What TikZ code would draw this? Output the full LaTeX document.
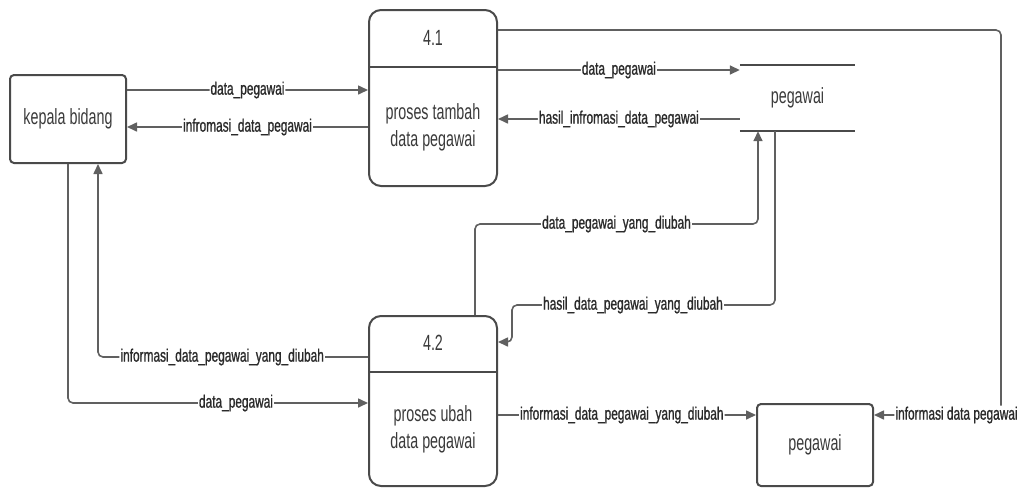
\documentclass[tikz,border=0pt]{standalone}
\usepackage{fontspec}
\setmainfont{Liberation Sans}[FakeStretch=0.65]
\newfontfamily\flowfont{Liberation Sans}[FakeStretch=0.66, FakeBold=0.9]
\usetikzlibrary{arrows.meta}
\definecolor{boxgray}{HTML}{4A4A4A}
\definecolor{linegray}{HTML}{606060}
\definecolor{textgray}{HTML}{3A3A3A}
\definecolor{labelgray}{HTML}{2A2A2A}
\begin{document}
\begin{tikzpicture}[x=1pt,y=-1pt,
  entity/.style={draw=boxgray, line width=2pt, rounded corners=4pt, fill=white,
    font=\fontsize{22}{26}\selectfont, text=textgray},
  proc/.style={draw=boxgray, line width=2pt, rounded corners=12pt, fill=white},
  ptext/.style={font=\fontsize{22}{27}\selectfont, text=textgray, align=center},
  flow/.style={draw=linegray, line width=1.6pt, rounded corners=5pt,
    -{Triangle[length=10pt,width=9pt]}},
  lbl/.style={fill=white, inner sep=1pt, text=labelgray,
    font=\flowfont\fontsize{18}{20}\selectfont}]

\useasboundingbox (0,0) rectangle (1020,488);

% external entity and processes
\node[entity, minimum width=116pt, minimum height=88pt] (kb) at (68,119) {kepala bidang};

\node[proc, minimum width=128pt, minimum height=176pt] (p1) at (433,98) {};
\draw[draw=boxgray, line width=2pt] ([yshift=-58pt]p1.north west) -- ([yshift=-58pt]p1.north east);
\node[ptext] (n1) at (433,38) {4.1};
\node[ptext] (t1) at (433,127) {proses tambah\\data pegawai};

\node[proc, minimum width=128pt, minimum height=170pt] (p2) at (433,401) {};
\draw[draw=boxgray, line width=2pt] ([yshift=-57pt]p2.north west) -- ([yshift=-57pt]p2.north east);
\node[ptext] (n2) at (433,343) {4.2};
\node[ptext] (t2) at (433,429) {proses ubah\\data pegawai};

% data store
\node[minimum width=115pt, minimum height=66pt, font=\fontsize{22}{26}\selectfont, text=textgray] (ds) at (797.5,98) {pegawai};
\draw[draw=boxgray, line width=2pt] (ds.north west) -- (ds.north east);
\draw[draw=boxgray, line width=2pt] (ds.south west) -- (ds.south east);

% second entity
\node[entity, minimum width=116pt, minimum height=82pt] (pb) at (815,445) {pegawai};

% bend points
\coordinate (c1) at (758,224);
\coordinate (c2) at (512,305);

% flows between kepala bidang and 4.1
\draw[flow] ([yshift=29pt]kb.east) -- node[lbl]{data\_pegawai} ([yshift=8pt]p1.west);
\draw[flow] ([yshift=-29pt]p1.west) -- node[lbl]{infromasi\_data\_pegawai} ([yshift=-8pt]kb.east);

% flows between 4.1 and the data store
\draw[flow] ([yshift=28pt]p1.east) -- node[lbl]{data\_pegawai} ([yshift=28pt]ds.west);
\draw[flow] ([yshift=-21pt]ds.west) -- node[lbl]{hasil\_infromasi\_data\_pegawai} ([yshift=-21pt]p1.east);

% 4.1 to pegawai (long route on the right)
\draw[flow] ([yshift=68pt]p1.east) -| ([xshift=127pt,yshift=30pt]pb.east)
  -- node[lbl, pos=0.35]{informasi data pegawai} ([yshift=30pt]pb.east);

% flows between 4.2 and the data store
\draw[flow] ([xshift=42pt]p2.north) |- (c1) node[lbl, pos=0.75]{data\_pegawai\_yang\_diubah}
  -- ([xshift=-39.5pt]ds.south);
\draw[flow] ([xshift=-22.5pt]ds.south) |- (c2) node[lbl, pos=0.77]{hasil\_data\_pegawai\_yang\_diubah}
  |- ([yshift=59pt]p2.east);

% flows between kepala bidang and 4.2
\draw[flow] ([yshift=44pt]p2.west) -| node[lbl, pos=0.27]{informasi\_data\_pegawai\_yang\_diubah} ([xshift=30pt]kb.south);
\draw[flow] (kb.south) |- node[lbl, pos=0.78]{data\_pegawai} ([yshift=-2pt]p2.west);

% 4.2 to pegawai
\draw[flow] ([yshift=-14pt]p2.east) -- node[lbl, pos=0.48]{informasi\_data\_pegawai\_yang\_diubah} ([yshift=30pt]pb.west);
\end{tikzpicture}
\end{document}
